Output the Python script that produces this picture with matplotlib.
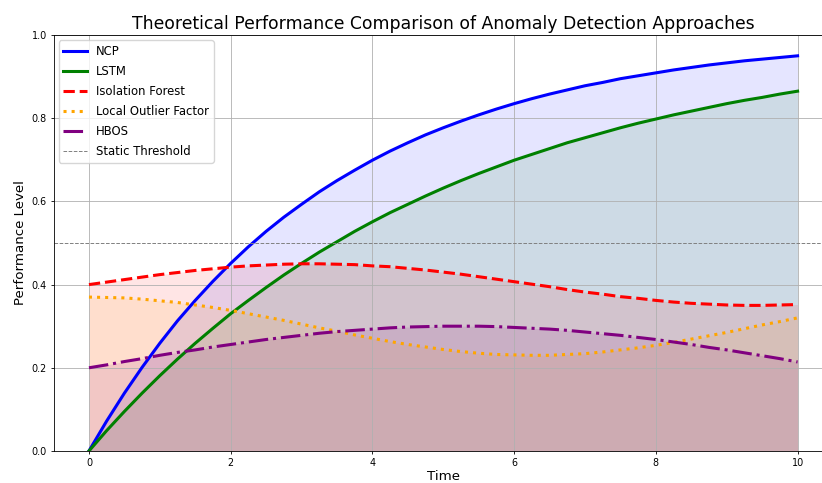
import matplotlib
matplotlib.use("Agg")
import matplotlib.pyplot as plt

# values, every 0.25 time units
time = [0, 0.25, 0.5, 0.75, 1, 1.25, 1.5, 1.75, 2, 2.25, 2.5, 2.75, 3, 3.25, 3.5, 3.75,
        4, 4.25, 4.5, 4.75, 5, 5.25, 5.5, 5.75, 6, 6.25, 6.5, 6.75, 7, 7.25, 7.5, 7.75,
        8, 8.25, 8.5, 8.75, 9, 9.25, 9.5, 9.75, 10]
ncp = [0.000, 0.072, 0.139, 0.201, 0.259, 0.313, 0.362, 0.408, 0.451, 0.491, 0.528,
       0.562, 0.593, 0.623, 0.650, 0.675, 0.699, 0.721, 0.741, 0.760, 0.777, 0.793,
       0.808, 0.822, 0.835, 0.847, 0.858, 0.868, 0.878, 0.886, 0.895, 0.902, 0.909,
       0.916, 0.922, 0.928, 0.933, 0.938, 0.942, 0.946, 0.950]
lstm = [0.000, 0.049, 0.095, 0.139, 0.181, 0.221, 0.259, 0.295, 0.330, 0.362, 0.393,
        0.423, 0.451, 0.478, 0.503, 0.528, 0.551, 0.573, 0.593, 0.613, 0.632, 0.650,
        0.667, 0.683, 0.699, 0.713, 0.727, 0.741, 0.753, 0.765, 0.777, 0.788, 0.798,
        0.808, 0.817, 0.826, 0.835, 0.843, 0.850, 0.858, 0.865]
iso_forest = [0.400, 0.406, 0.412, 0.418, 0.424, 0.429, 0.434, 0.438, 0.442, 0.445, 0.447,
              0.449, 0.450, 0.450, 0.449, 0.448, 0.445, 0.443, 0.439, 0.435, 0.430, 0.425,
              0.419, 0.413, 0.407, 0.401, 0.395, 0.388, 0.382, 0.377, 0.371, 0.367, 0.362,
              0.358, 0.355, 0.353, 0.351, 0.350, 0.350, 0.351, 0.352]
lof = [0.370, 0.369, 0.368, 0.365, 0.361, 0.357, 0.351, 0.345, 0.338, 0.330, 0.322,
       0.314, 0.305, 0.296, 0.288, 0.279, 0.271, 0.263, 0.256, 0.250, 0.244, 0.239,
       0.235, 0.232, 0.231, 0.230, 0.230, 0.232, 0.234, 0.238, 0.243, 0.248, 0.254,
       0.261, 0.269, 0.277, 0.285, 0.294, 0.303, 0.311, 0.320]
hbos = [0.200, 0.207, 0.215, 0.222, 0.230, 0.237, 0.243, 0.250, 0.256, 0.262, 0.268,
        0.273, 0.278, 0.283, 0.287, 0.290, 0.293, 0.296, 0.298, 0.299, 0.300, 0.300,
        0.300, 0.299, 0.297, 0.295, 0.293, 0.290, 0.286, 0.282, 0.278, 0.273, 0.268,
        0.262, 0.256, 0.249, 0.243, 0.236, 0.229, 0.222, 0.214]
static_threshold = 0.5

series = [
    ("NCP", ncp, "blue", "-"),
    ("LSTM", lstm, "green", "-"),
    ("Isolation Forest", iso_forest, "red", "--"),
    ("Local Outlier Factor", lof, "orange", ":"),
    ("HBOS", hbos, "purple", "-."),
]

plt.rcParams.update({
    "axes.linewidth": 0.6,
    "grid.linewidth": 0.6,
    "xtick.major.width": 0.6,
    "ytick.major.width": 0.6,
    "xtick.major.size": 2.4,
    "ytick.major.size": 2.4,
})

fig = plt.figure(figsize=(8.22, 4.83), dpi=100)
ax = fig.add_axes([0.0651, 0.0663, 0.9483, 0.8612])

for name, vals, color, ls in series:
    ax.plot(time, vals, color=color, linestyle=ls, linewidth=2.2, label=name)
    ax.fill_between(time, 0, vals, color=color, alpha=0.1, linewidth=0)

ax.axhline(static_threshold, color="gray", linestyle="--", linewidth=0.7, label="Static Threshold")

ax.set_xlim(-0.5, 10.5)
ax.set_ylim(0, 1)
ax.set_title("Theoretical Performance Comparison of Anomaly Detection Approaches",
             fontsize=12.4, pad=4)
ax.set_xlabel("Time", fontsize=9.6, labelpad=2)
ax.set_ylabel("Performance Level", fontsize=9.6, labelpad=3)
ax.tick_params(labelsize=6.9, pad=2.4)
ax.grid(True)
ax.legend(loc="upper left", fontsize=8.4, labelspacing=0.6,
          borderaxespad=0.45, handlelength=2.0)

fig.savefig("out.png", dpi=100)
plt.close(fig)
